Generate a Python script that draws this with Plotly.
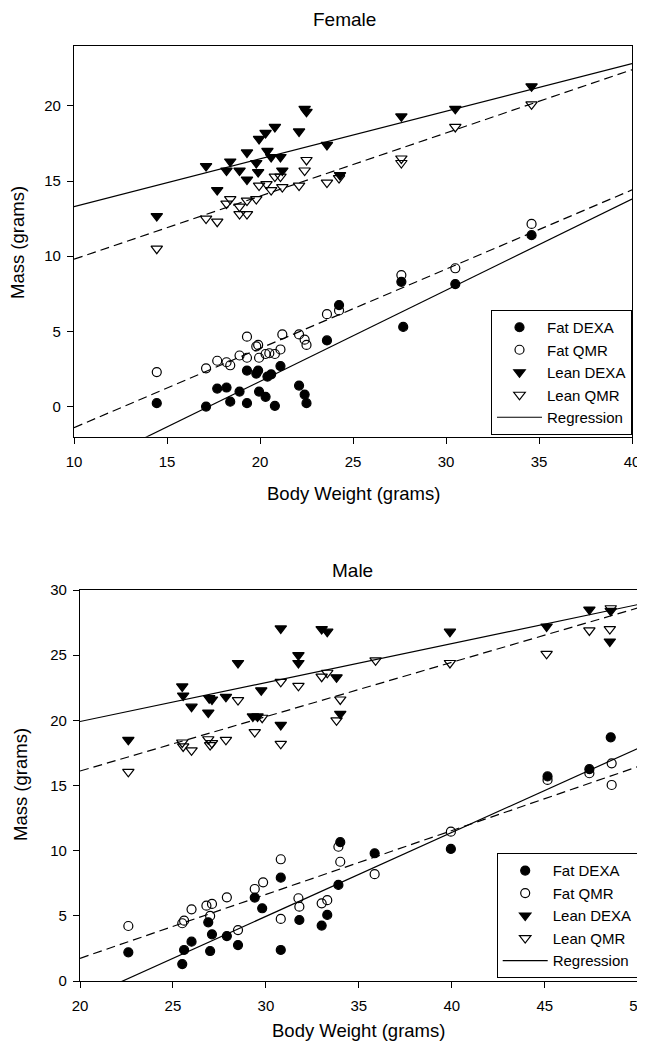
import plotly.graph_objects as go

# ---------------- Female data ----------------
f_bw_fat_dexa = [14.45, 17.1, 17.7, 18.2, 18.4, 18.9, 19.3, 19.3, 19.8, 19.9, 19.95, 20.3, 20.4, 20.6, 20.8, 21.1, 22.1, 22.4, 22.5, 23.6, 24.25, 27.6, 27.7, 30.5, 34.6]
f_fat_dexa = [0.23, 0.0, 1.2, 1.27, 0.33, 1.0, 2.4, 0.23, 2.2, 2.4, 1.0, 0.65, 2.0, 2.15, 0.05, 2.7, 1.4, 0.8, 0.23, 4.4, 6.75, 8.3, 5.3, 8.15, 11.4]

f_bw_fat_qmr = [14.45, 17.1, 17.7, 18.2, 18.4, 18.9, 19.3, 19.3, 19.8, 19.9, 19.95, 20.3, 20.5, 20.8, 21.1, 21.2, 22.1, 22.4, 22.5, 23.6, 24.25, 27.6, 30.5, 34.6]
f_fat_qmr = [2.3, 2.55, 3.05, 2.95, 2.75, 3.4, 4.65, 3.25, 4.0, 4.1, 3.25, 3.5, 3.55, 3.5, 3.8, 4.8, 4.8, 4.45, 4.1, 6.15, 6.4, 8.75, 9.2, 12.15]

f_bw_lean_dexa = [14.45, 17.1, 17.7, 18.2, 18.4, 18.9, 19.3, 19.3, 19.8, 19.9, 19.95, 20.3, 20.4, 20.6, 20.8, 21.1, 21.2, 22.1, 22.4, 22.5, 23.6, 24.3, 27.6, 30.5, 34.6]
f_lean_dexa = [12.67, 16.0, 14.4, 15.7, 16.3, 15.7, 16.9, 15.1, 16.2, 15.6, 17.8, 18.2, 17.0, 16.6, 18.6, 16.6, 15.7, 18.3, 19.8, 19.6, 17.4, 15.4, 19.3, 19.8, 21.3]

f_bw_lean_qmr = [14.45, 17.1, 17.7, 18.2, 18.4, 18.9, 18.9, 19.3, 19.3, 19.8, 19.95, 20.35, 20.6, 20.8, 21.1, 21.2, 22.1, 22.4, 22.5, 23.6, 24.25, 27.6, 27.6, 30.5, 34.6]
f_lean_qmr = [10.5, 12.5, 12.3, 13.5, 13.8, 13.3, 12.8, 12.8, 13.7, 13.8, 14.7, 14.8, 14.4, 15.3, 15.3, 14.6, 14.7, 15.7, 16.4, 14.9, 15.2, 16.5, 16.2, 18.6, 20.1]

# regression lines (slope, intercept): fat DEXA, fat QMR, lean DEXA, lean QMR
f_reg_slope = [0.606, 0.527, 0.317, 0.420]
f_reg_intercept = [-10.44, -6.67, 10.13, 5.60]

# ---------------- Male data ----------------
m_bw_fat_dexa = [22.6, 25.5, 25.6, 26.0, 26.9, 27.0, 27.1, 27.9, 28.5, 29.4, 29.8, 30.8, 30.8, 31.8, 33.0, 33.3, 33.9, 34.0, 35.85, 39.95, 45.15, 47.4, 48.55]
m_fat_dexa = [2.2, 1.3, 2.38, 3.02, 4.5, 2.3, 3.58, 3.45, 2.76, 6.4, 5.58, 7.93, 2.38, 4.68, 4.25, 5.07, 7.37, 10.65, 9.8, 10.13, 15.7, 16.25, 18.7]

m_bw_fat_qmr = [22.6, 25.5, 25.6, 26.0, 26.8, 27.0, 27.1, 27.9, 28.5, 29.4, 29.85, 30.8, 30.8, 31.75, 31.8, 33.0, 33.3, 33.9, 34.0, 35.85, 39.95, 45.15, 47.4, 48.6, 48.6]
m_fat_qmr = [4.22, 4.43, 4.63, 5.5, 5.78, 4.99, 5.91, 6.42, 3.91, 7.06, 7.57, 9.34, 4.76, 6.35, 5.7, 5.96, 6.2, 10.3, 9.15, 8.2, 11.46, 15.43, 15.94, 16.7, 15.04]

m_bw_lean_dexa = [22.6, 25.5, 25.55, 26.0, 26.9, 26.95, 27.1, 27.85, 28.5, 29.3, 29.55, 29.75, 30.8, 30.8, 31.75, 31.75, 33.0, 33.3, 33.8, 34.0, 39.9, 45.1, 47.4, 48.5, 48.55]
m_lean_dexa = [18.5, 22.6, 21.9, 21.05, 20.6, 21.7, 21.6, 21.8, 24.4, 20.3, 20.3, 22.3, 27.05, 19.65, 25.0, 24.4, 27.0, 26.8, 23.3, 20.5, 26.8, 27.2, 28.5, 26.05, 28.4]

m_bw_lean_qmr = [22.6, 25.5, 25.55, 26.0, 26.9, 27.0, 27.1, 27.85, 28.5, 29.4, 29.8, 30.8, 30.8, 31.75, 33.0, 33.3, 34.0, 33.8, 35.9, 39.9, 45.1, 47.4, 48.5, 48.55]
m_lean_qmr = [16.05, 18.3, 18.0, 17.7, 18.55, 18.1, 18.25, 18.5, 21.55, 19.1, 20.2, 22.95, 18.2, 22.65, 23.35, 23.65, 21.6, 20.0, 24.6, 24.4, 25.1, 26.9, 27.0, 28.6]

m_reg_slope = [0.644, 0.490, 0.299, 0.417]
m_reg_intercept = [-14.36, -8.06, 13.93, 7.77]

series_names = ["Fat DEXA", "Fat QMR", "Lean DEXA", "Lean QMR"]
symbols = ["circle", "circle-open", "triangle-down", "triangle-down-open"]
reg_dash = ["solid", "dash", "solid", "dash"]

female_x_range = [10, 40]
female_y_range = [-2, 24]
male_x_range = [20, 50]
male_y_range = [0, 30]

# The page body has an 8px margin, so the figure is placed 8px in from the top-left.
OFF = 8
W, H = 645 - OFF, 1048 - OFF
FONT = "Liberation Sans, Arial, sans-serif"

# plot boxes in page pixels (left, right, top, bottom)
F_BOX = (74, 632, 45.7, 436.7)
M_BOX = (80, 637.7, 590, 981)

fig = go.Figure()


def add_panel(xs, ys, slopes, intercepts, xrange_, xa, ya, legend):
    for i in range(4):
        fig.add_trace(go.Scatter(
            x=xs[i], y=ys[i], mode="markers", name=series_names[i],
            xaxis=xa, yaxis=ya, legend=legend,
            marker=dict(symbol=symbols[i], size=9 if "circle" in symbols[i] else 10,
                        color="black", line=dict(color="black", width=1.2)),
            cliponaxis=False,
        ))
    for i in range(4):
        lx = [xrange_[0], xrange_[1]]
        ly = [intercepts[i] + slopes[i] * v for v in lx]
        fig.add_trace(go.Scatter(
            x=lx, y=ly, mode="lines", name="Regression",
            xaxis=xa, yaxis=ya, legend=legend,
            showlegend=(i == 0),
            line=dict(color="black", width=1.2,
                      dash="solid" if reg_dash[i] == "solid" else "9px,5px"),
        ))


add_panel([f_bw_fat_dexa, f_bw_fat_qmr, f_bw_lean_dexa, f_bw_lean_qmr],
          [f_fat_dexa, f_fat_qmr, f_lean_dexa, f_lean_qmr],
          f_reg_slope, f_reg_intercept, female_x_range, "x", "y", "legend")
add_panel([m_bw_fat_dexa, m_bw_fat_qmr, m_bw_lean_dexa, m_bw_lean_qmr],
          [m_fat_dexa, m_fat_qmr, m_lean_dexa, m_lean_qmr],
          m_reg_slope, m_reg_intercept, male_x_range, "x2", "y2", "legend2")

axis_common = dict(
    showgrid=False, zeroline=False, showline=True, linecolor="black", linewidth=1.2,
    mirror=True, ticks="outside", ticklen=6, tickwidth=1, tickcolor="black",
    tickfont=dict(family=FONT, size=15, color="black"), automargin=False,
    ticklabeloverflow="allow",
)


def px_x(v):
    return (v - OFF) / W


def px_y(v):
    return 1 - (v - OFF) / H


legend_common = dict(xanchor="right", yanchor="bottom", bgcolor="white",
                     bordercolor="black", borderwidth=1, tracegroupgap=0,
                     itemwidth=45,
                     font=dict(family=FONT, size=15, color="black"))


def ann(text, x, y, size=18.5, angle=0):
    return dict(text=text, x=px_x(x), y=px_y(y), xref="paper", yref="paper",
                showarrow=False, textangle=angle, xanchor="center", yanchor="middle",
                font=dict(family=FONT, size=size, color="black"))


fig.update_layout(
    width=W, height=H,
    margin=dict(l=0, r=0, t=0, b=0, autoexpand=False),
    paper_bgcolor="white", plot_bgcolor="white",
    font=dict(family=FONT, color="black"),
    xaxis=dict(domain=[px_x(F_BOX[0]), min(1, px_x(F_BOX[1]))], range=female_x_range, dtick=5,
               anchor="y", ticklabelstandoff=5, **axis_common),
    yaxis=dict(domain=[px_y(F_BOX[3]), px_y(F_BOX[2])], range=female_y_range, dtick=5,
               anchor="x", ticklabelstandoff=3, **axis_common),
    xaxis2=dict(domain=[px_x(M_BOX[0]), min(1, px_x(M_BOX[1]))], range=male_x_range, dtick=5,
                anchor="y2", ticklabelstandoff=5, **axis_common),
    yaxis2=dict(domain=[px_y(M_BOX[3]), px_y(M_BOX[2])], range=male_y_range, dtick=5,
                anchor="x2", ticklabelstandoff=3, **axis_common),
    legend=dict(x=px_x(632), y=px_y(435), **legend_common),
    legend2=dict(x=min(1, px_x(637.7)), y=px_y(978.3), **legend_common),
    annotations=[
        ann("Female", 344, 20, size=19),
        ann("Male", 352, 570, size=19),
        ann("Body Weight (grams)", 353, 493),
        ann("Body Weight (grams)", 359, 1030),
        ann("Mass (grams)", 18, 243, angle=-90),
        ann("Mass (grams)", 20, 785, angle=-90),
    ],
    showlegend=True,
)

fig.write_html("out.html")
